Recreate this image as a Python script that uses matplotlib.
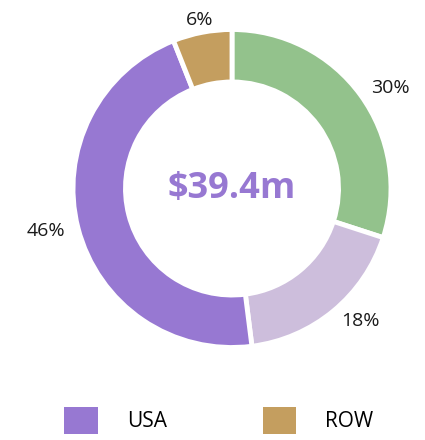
import numpy as np
import matplotlib.pyplot as plt
from matplotlib.patches import Patch

plt.rcParams['font.family'] = ['Open Sans', 'DejaVu Sans']

# slices clockwise from 12 o'clock
shares = [30, 18, 46, 6]
colors = ['#93C28C', '#CDBEDC', '#9778D2', '#C49E5F']
total_label = '$39.4m'
legend_labels = ['USA', 'ROW']
legend_colors = ['#9778D2', '#C49E5F']

fig = plt.figure(figsize=(4.25, 4.4), dpi=100)
ax = fig.add_axes([0, 0, 1, 1])

cx, cy, R = 232, 440 - 188.5, 159

wedges, _ = ax.pie(
    shares, colors=colors, startangle=90, counterclock=False,
    center=(cx, cy), radius=R, frame=True,
    wedgeprops=dict(width=R * 0.33, edgecolor='white', linewidth=3.5))
ax.set_xlim(0, 425)
ax.set_ylim(0, 440)
ax.set_aspect('equal')
ax.axis('off')

# percentage labels just outside the ring, aligned away from it
for w, s in zip(wedges, shares):
    ang = np.deg2rad((w.theta1 + w.theta2) / 2)
    x = cx + 1.08 * R * np.cos(ang)
    y = cy + 1.08 * R * np.sin(ang)
    c = np.cos(ang)
    ha = 'center' if abs(c) < 0.3 else ('left' if c > 0 else 'right')
    ax.text(x, y, f'{s}%', ha=ha, va='center', fontsize=14, color='#1a1a1a')

ax.text(cx, cy, total_label, ha='center', va='center', fontsize=26,
        fontweight='bold', color='#9778D2')

handles = [Patch(facecolor=c, edgecolor='none') for c in legend_colors]
fig.legend(handles, legend_labels, loc='center', bbox_to_anchor=(0.515, 0.045),
           ncol=2, frameon=False, fontsize=15, handlelength=1.6,
           handleheight=1.6, handletextpad=1.4, columnspacing=4.6)

fig.savefig('out.png', dpi=100)
